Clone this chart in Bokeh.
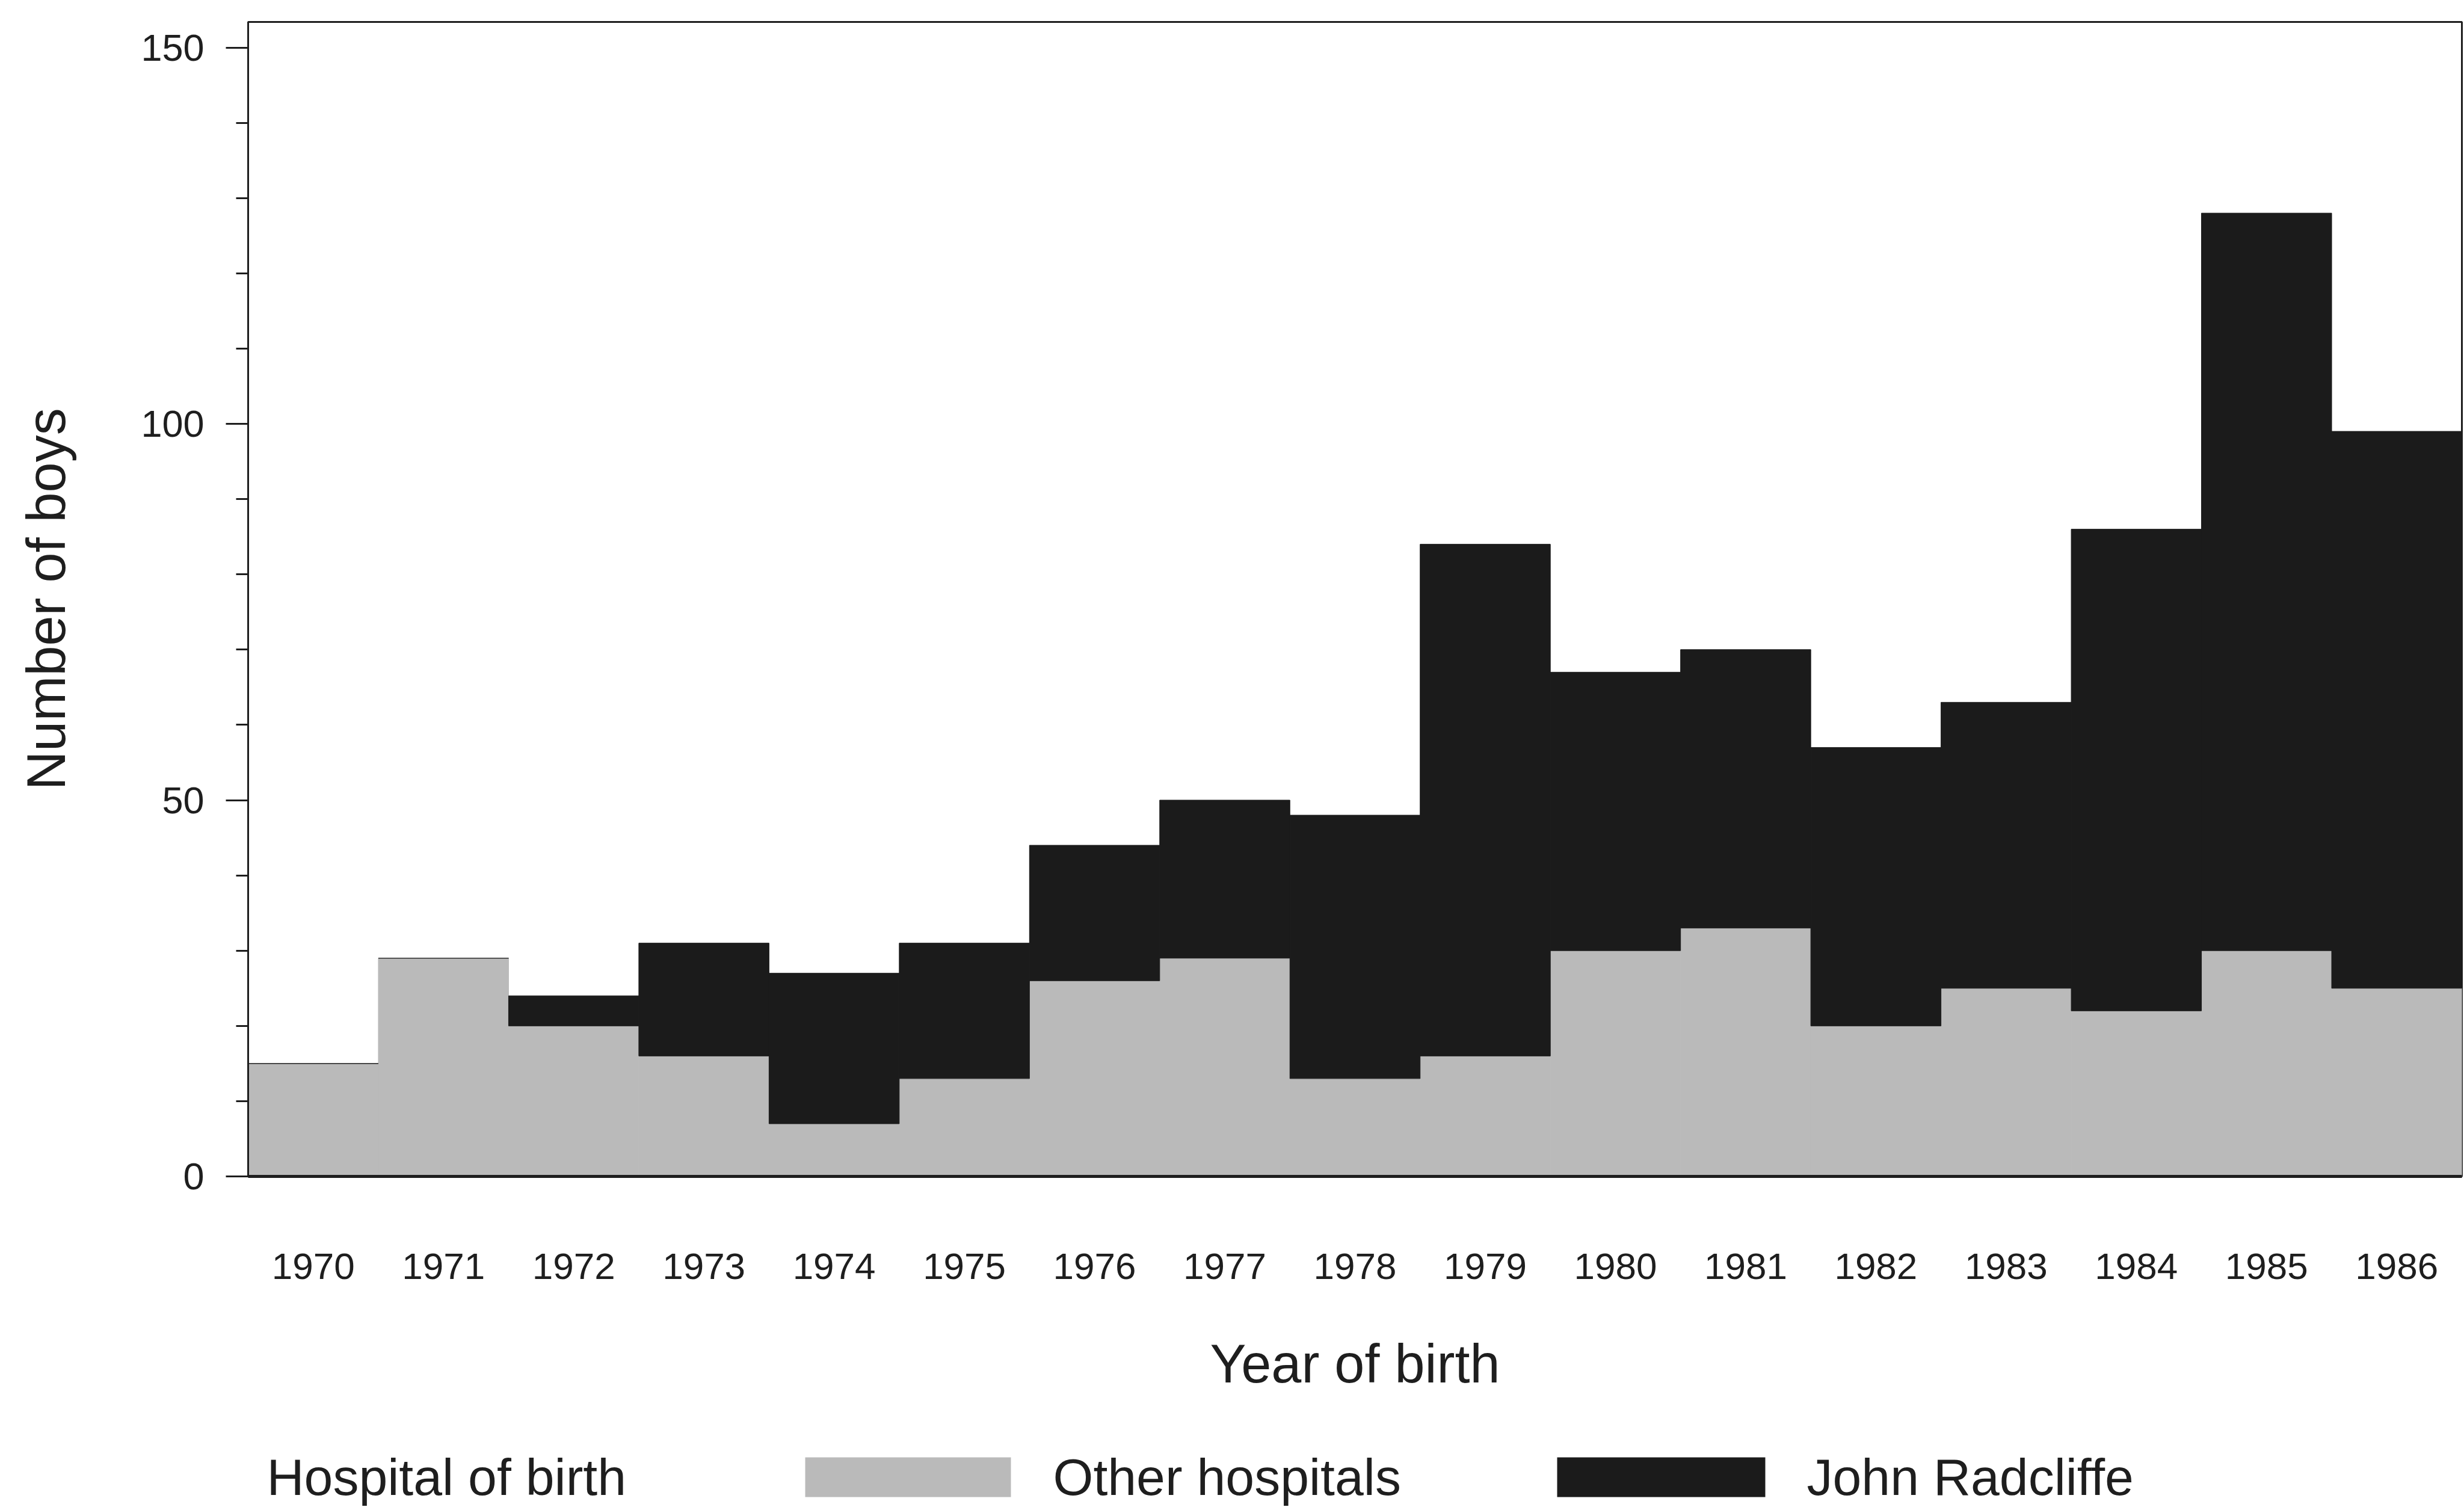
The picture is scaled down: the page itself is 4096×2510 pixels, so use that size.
from bokeh.plotting import figure
from bokeh.models import ColumnDataSource, FactorRange, Range1d, FixedTicker
from bokeh.layouts import column
from bokeh.core.properties import value
from bokeh.embed import file_html
from bokeh.resources import INLINE

# Boys born per year, split by hospital of birth
years = ["1970", "1971", "1972", "1973", "1974", "1975", "1976", "1977", "1978",
         "1979", "1980", "1981", "1982", "1983", "1984", "1985", "1986"]
other_hospitals = [15, 29, 20, 16, 7, 13, 26, 29, 13, 16, 30, 33, 20, 25, 22, 30, 25]
john_radcliffe = [0, 0, 4, 15, 20, 18, 18, 21, 35, 68, 37, 37, 37, 38, 64, 98, 74]

series_names = ["Other hospitals", "John Radcliffe"]
y_major_ticks = [0, 50, 100, 150]
y_minor_ticks = [0, 10, 20, 30, 40, 50, 60, 70, 80, 90, 100, 110, 120, 130, 140, 150]

GRAY = "#bababa"
BLACK = "#1b1b1b"
INK = "#1e1e1e"
FONT = "Liberation Sans"

FRAME_LEFT = 412
FRAME_RIGHT_PAD = 4
PAGE_W = 4096

src = ColumnDataSource(dict(year=years, other=other_hospitals, jr=john_radcliffe))

p = figure(
    x_range=FactorRange(factors=years, range_padding=0),
    y_range=Range1d(0, 153.4),
    width=PAGE_W, height=2380,
    output_backend="svg", toolbar_location=None,
    min_border_left=FRAME_LEFT, min_border_right=FRAME_RIGHT_PAD,
    min_border_top=36, min_border_bottom=425,
    background_fill_color="white", border_fill_color="white",
)

p.vbar_stack(["other", "jr"], x="year", width=1.0, source=src,
             fill_color=[GRAY, BLACK], line_color=[GRAY, BLACK], line_width=1)

p.xgrid.visible = False
p.ygrid.visible = False
p.outline_line_color = INK
p.outline_line_width = 3

# vertical axis
ya = p.yaxis[0]
ya.ticker = FixedTicker(ticks=y_major_ticks, minor_ticks=y_minor_ticks)
ya.axis_line_color = INK
ya.axis_line_width = 3
ya.major_tick_out = 37
ya.major_tick_in = 0
ya.minor_tick_out = 20
ya.minor_tick_in = 0
ya.major_tick_line_width = 3
ya.minor_tick_line_width = 3
ya.major_tick_line_color = INK
ya.minor_tick_line_color = INK
ya.major_label_text_font = FONT
ya.major_label_text_font_size = "63px"
ya.major_label_text_color = INK
ya.major_label_standoff = 36
ya.axis_label = "Number of boys"
ya.axis_label_text_font = FONT
ya.axis_label_text_font_size = "90px"
ya.axis_label_text_font_style = "normal"
ya.axis_label_text_color = INK
ya.axis_label_standoff = 104

# horizontal axis
xa = p.xaxis[0]
xa.axis_line_color = INK
xa.axis_line_width = 5
xa.major_tick_out = 0
xa.major_tick_in = 0
xa.major_label_text_font = FONT
xa.major_label_text_font_size = "62px"
xa.major_label_text_color = INK
xa.major_label_standoff = 128
xa.axis_label = "Year of birth"
xa.axis_label_text_font = FONT
xa.axis_label_text_font_size = "90px"
xa.axis_label_text_font_style = "normal"
xa.axis_label_text_color = INK
xa.axis_label_standoff = 88

# key row beneath the chart; its x range is laid out in page pixels
leg = figure(
    width=PAGE_W, height=130,
    x_range=Range1d(FRAME_LEFT, PAGE_W - FRAME_RIGHT_PAD), y_range=Range1d(0, 130),
    x_axis_type=None, y_axis_type=None,
    output_backend="svg", toolbar_location=None,
    min_border=0, min_border_left=FRAME_LEFT, min_border_right=FRAME_RIGHT_PAD,
    min_border_top=0, min_border_bottom=0,
    background_fill_color="white", border_fill_color="white",
)
leg.outline_line_color = None
leg.xgrid.visible = False
leg.ygrid.visible = False

swatch_left = [1338, 2588]
swatch_right = [1680, 2934]
leg.quad(left=swatch_left, right=swatch_right, bottom=[22, 22], top=[88, 88],
         fill_color=[GRAY, BLACK], line_color=None)
leg.text(x=[443, 1750, 3003], y=[56, 56, 56],
         text=["Hospital of birth"] + series_names,
         text_font=value(FONT), text_font_size="86px",
         text_baseline="middle", text_align="left", text_color=INK)

layout = column(p, leg, spacing=0)

with open("out.html", "w") as f:
    f.write(file_html(layout, INLINE))
